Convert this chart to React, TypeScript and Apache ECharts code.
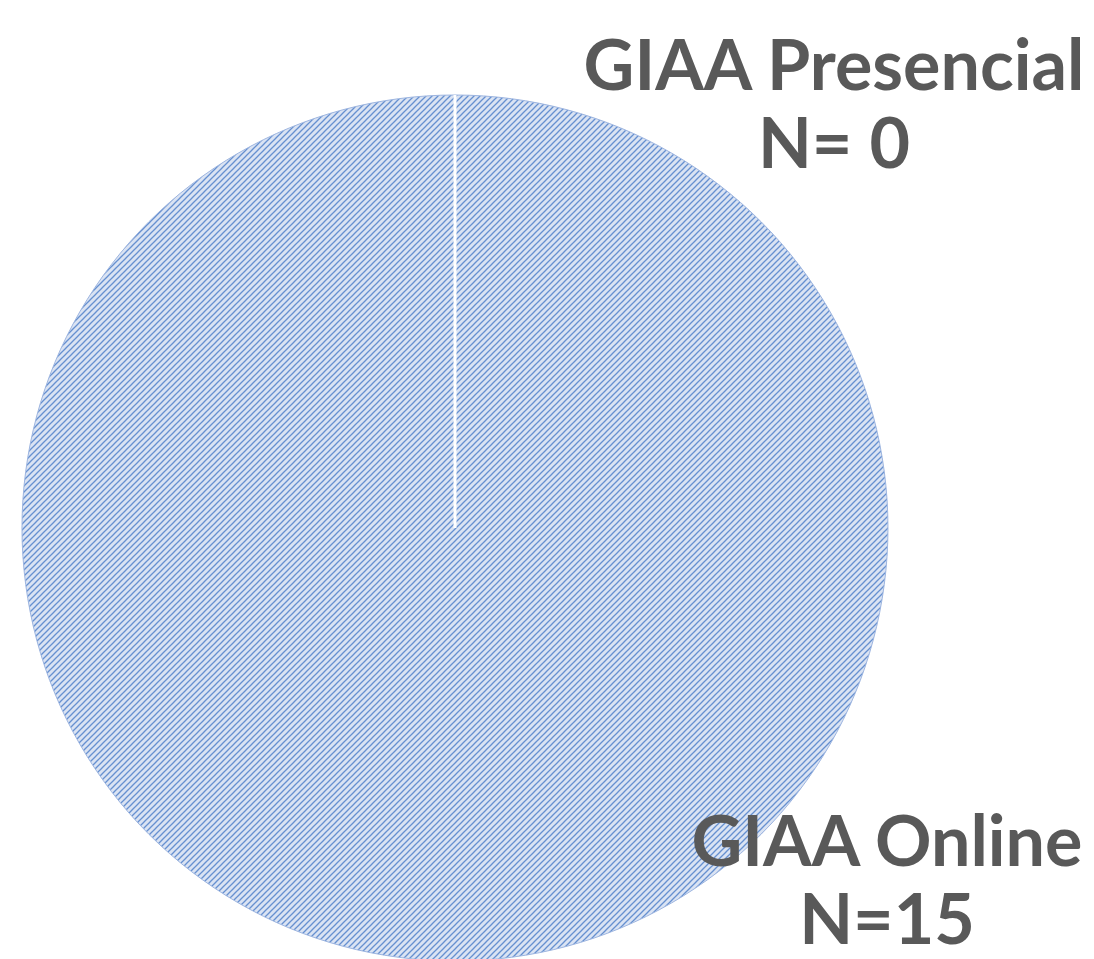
import React, { useEffect, useRef } from "react";
import * as echarts from "echarts";

const categories = ["GIAA Presencial", "GIAA Online"];
const values = [0, 15];
const countLabels = ["N= 0", "N=15"];

const W = 1094;
const H = 959;
const CX = 455;
const CY = 528;
const R = 433;

function makePattern(): HTMLCanvasElement {
  const c = document.createElement("canvas");
  c.width = 6;
  c.height = 6;
  const ctx = c.getContext("2d")!;
  ctx.fillStyle = "#dae3f3";
  ctx.fillRect(0, 0, 6, 6);
  ctx.strokeStyle = "#6690d0";
  ctx.lineWidth = 1.3;
  for (let k = -1; k <= 1; k++) {
    ctx.beginPath();
    ctx.moveTo(-1 + k * 6, 7);
    ctx.lineTo(7 + k * 6, -1);
    ctx.stroke();
  }
  return c;
}

export default function App() {
  const ref = useRef<HTMLDivElement>(null);
  useEffect(() => {
    if (!ref.current) return;
    const chart = echarts.init(ref.current, undefined, { renderer: "svg" });
    const pattern = makePattern();
    const labelPos = [
      { x: 834, y: 102 },
      { x: 887, y: 878 },
    ];
    chart.setOption({
      animation: false,
      backgroundColor: "#ffffff",
      series: [
        {
          type: "pie",
          center: [CX, CY],
          radius: R,
          startAngle: 90,
          clockwise: true,
          avoidLabelOverlap: false,
          itemStyle: {
            color: { image: pattern, repeat: "repeat" },
            borderColor: "#9db5e0",
            borderWidth: 1,
          },
          label: {
            show: true,
            position: "outside",
            color: "#595959",
            fontFamily: "Lato",
            fontWeight: "bold",
            fontSize: 70,
            lineHeight: 78,
            align: "center",
            formatter: (p: any) => `${p.name}\n${countLabels[p.dataIndex]}`,
          },
          labelLine: { show: false },
          labelLayout: (p: any) => ({
            x: labelPos[p.dataIndex].x,
            y: labelPos[p.dataIndex].y,
            align: "center",
            verticalAlign: "middle",
          }),
          data: categories.map((c, i) => ({ name: c, value: values[i] })),
        },
      ],
      graphic: [
        {
          type: "line",
          shape: { x1: CX, y1: CY, x2: CX, y2: CY - R },
          style: { stroke: "#ffffff", lineWidth: 3 },
          z: 100,
        },
      ],
    });
    return () => chart.dispose();
  }, []);
  return (
    <div
      ref={ref}
      style={{ position: "absolute", left: 0, top: 0, width: W, height: H }}
    />
  );
}
